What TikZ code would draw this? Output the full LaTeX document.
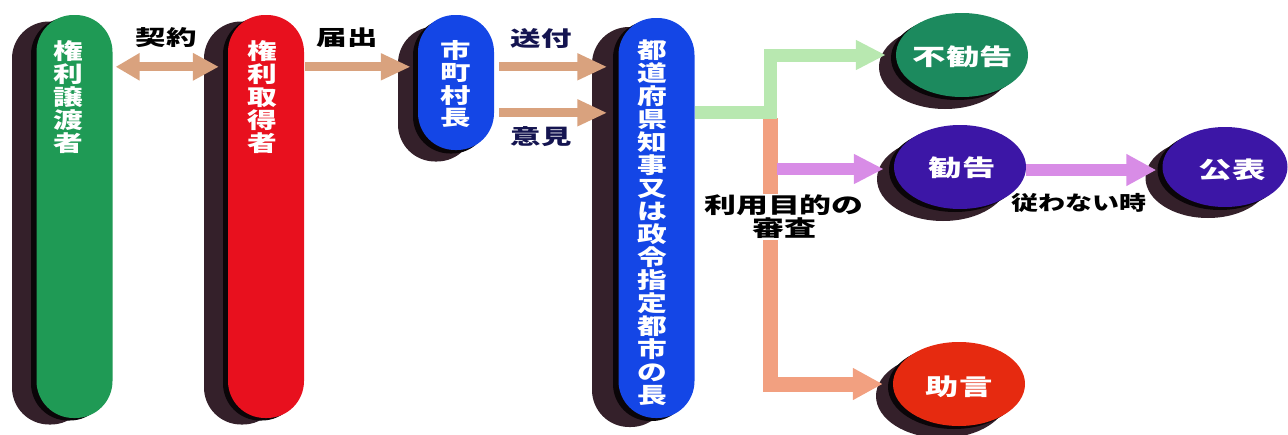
\documentclass[tikz,border=0pt]{standalone}
\usepackage{fontspec}
\usetikzlibrary{arrows.meta,calc,shapes.geometric}
\newfontfamily\jp{Noto Sans CJK JP}[FakeStretch=1.35]
\newfontfamily\jpw{Noto Sans CJK JP}[FakeStretch=1.45]
\definecolor{shad}{HTML}{34202A}
\definecolor{rim}{HTML}{0A0508}
\definecolor{cgreen}{HTML}{1F9A55}
\definecolor{cred}{HTML}{E8101E}
\definecolor{cblue}{HTML}{1446E6}
\definecolor{ctan}{HTML}{D9A27E}
\definecolor{clgreen}{HTML}{B8E8B0}
\definecolor{corange}{HTML}{F2A080}
\definecolor{cpurple}{HTML}{D88CE6}
\definecolor{cteal}{HTML}{1C8A5E}
\definecolor{cindigo}{HTML}{3C16A6}
\definecolor{cred2}{HTML}{E62A10}
\definecolor{cnavy}{HTML}{141450}
\tikzset{
  pill/.style={rectangle, rounded corners=37pt, minimum width=76pt, inner sep=0pt},
  oval/.style={ellipse, minimum width=132pt, minimum height=84pt, inner sep=0pt},
  vtext/.style={text=white, align=center, inner sep=0pt, anchor=north},
  otext/.style={text=white, inner sep=0pt, font=\jpw\bfseries\fontsize{23}{25}\selectfont},
  lbl/.style={inner sep=0pt, font=\jpw\bfseries\fontsize{21}{23}\selectfont},
  tanarrow/.style={draw=ctan, line width=9pt},
  tip/.style={-{Triangle[width=#1,length=30pt]}},
}
\begin{document}
\begin{tikzpicture}[x=1pt,y=-1pt]
\useasboundingbox (0,0) rectangle (1288,434);
% ---- pills: shadow, rim, body ----
\node[pill, fill=shad, minimum height=403pt] (pAs) at (50,223) {};
\node[pill, fill=rim, minimum height=403pt] (pAk) at (69,219) {};
\node[pill, fill=cgreen, minimum height=403pt] (pA) at (74.5,216.5) {};
\node[pill, fill=shad, minimum height=403pt] (pBs) at (242,223) {};
\node[pill, fill=rim, minimum height=403pt] (pBk) at (261,219) {};
\node[pill, fill=cred, minimum height=403pt] (pB) at (266,216.5) {};
\node[pill, fill=shad, minimum height=135pt] (pCs) at (436,94) {};
\node[pill, fill=rim, minimum height=135pt] (pCk) at (451,86) {};
\node[pill, fill=cblue, minimum height=135pt] (pC) at (456,82.5) {};
\node[pill, fill=shad, minimum height=400pt] (pDs) at (630,227) {};
\node[pill, fill=rim, minimum height=400pt] (pDk) at (651,221) {};
\node[pill, fill=cblue, minimum height=400pt] (pD) at (656.5,218) {};
% ---- pill texts ----
\node[vtext, font=\jp\bfseries\fontsize{22}{23}\selectfont] (tA) at (68,40) {権\\利\\譲\\渡\\者};
\node[vtext, font=\jp\bfseries\fontsize{22}{23}\selectfont] (tB) at (262,40) {権\\利\\取\\得\\者};
\node[vtext, font=\jpw\bfseries\fontsize{21}{22.4}\selectfont] (tC) at (456,40) {市\\町\\村\\長};
\node[vtext, font=\jp\bfseries\fontsize{22}{23}\selectfont] (tD) at (652,40) {都\\道\\府\\県\\知\\事\\又\\は\\政\\令\\指\\定\\都\\市\\の\\長};
% ---- ovals ----
\node[oval, fill=shad] (n1s) at (945,67) {};
\node[oval, fill=rim] (n1k) at (957,58) {};
\node[oval, fill=cteal] (n1) at (962,55) {};
\node[oval, fill=shad] (n2s) at (943,179) {};
\node[oval, fill=rim] (n2k) at (955,170) {};
\node[oval, fill=cindigo] (n2) at (960,167) {};
\node[oval, fill=shad] (n3s) at (942,396) {};
\node[oval, fill=rim] (n3k) at (954,387) {};
\node[oval, fill=cred2] (n3) at (959,384) {};
\node[oval, fill=shad, minimum width=125pt, minimum height=80pt] (n4s) at (1208,178) {};
\node[oval, fill=rim, minimum width=125pt, minimum height=80pt] (n4k) at (1220,170) {};
\node[oval, fill=cindigo, minimum width=125pt, minimum height=80pt] (n4) at (1225,167) {};
\node[otext] (t1) at (963,57) {不勧告};
\node[otext] (t2) at (962,168) {勧告};
\node[otext] (t3) at (959,387) {助言};
\node[otext] (t4) at (1232,170) {公表};
% ---- connectors ----
\draw[tanarrow, {Triangle[width=26pt,length=24pt]}-{Triangle[width=26pt,length=26pt]}]
  ($(pA.north east)+(3,52)$) -- ($(pB.north west)+(-9,52)$);
\draw[tanarrow, tip=25pt] ($(pB.north east)+(1,52)$) -- ($(pC.north west)+(-7,52)$);
\draw[tanarrow, tip=25pt] ($(pC.north east)+(5,52)$) -- ($(pD.north west)+(-11,49)$);
\draw[tanarrow, tip=25pt] ($(pC.north east)+(5,98)$) -- ($(pD.north west)+(-11,95)$);
\coordinate (j) at (770,112);
\coordinate (jo) at (770,118);
\coordinate (jp) at (777,169);
\draw[draw=corange, line width=15pt, tip=30pt] (jo) |- ($(n3.west)+(-10,0)$);
\draw[draw=clgreen, line width=13pt, tip=28pt] (pD.east |- j) -- (j) |- ($(n1.west)+(-10,0)$);
\draw[draw=cpurple, line width=12pt, tip=28pt] (jp) -- ($(n2.west)+(-10,2)$);
\draw[draw=cpurple, line width=12pt, tip=30pt] ($(n2.east)+(0,3)$) -- ($(n4.west)+(-6,3)$);
% ---- labels ----
\node[lbl] (l1) at (166,38) {契約};
\node[lbl] (l2) at (347,38) {届出};
\node[lbl, text=cnavy] (l3) at (541,39) {送付};
\node[lbl, text=cnavy] (l4) at (541,137) {意見};
\node[lbl, fill=white, align=center, inner sep=1pt, font=\jpw\bfseries\fontsize{22}{23}\selectfont] (l5) at (784,217) {利用目的の\\審査};
\node[lbl, font=\jp\bfseries\fontsize{20}{22}\selectfont] (l6) at (1079,203) {従わない時};
\end{tikzpicture}
\end{document}
